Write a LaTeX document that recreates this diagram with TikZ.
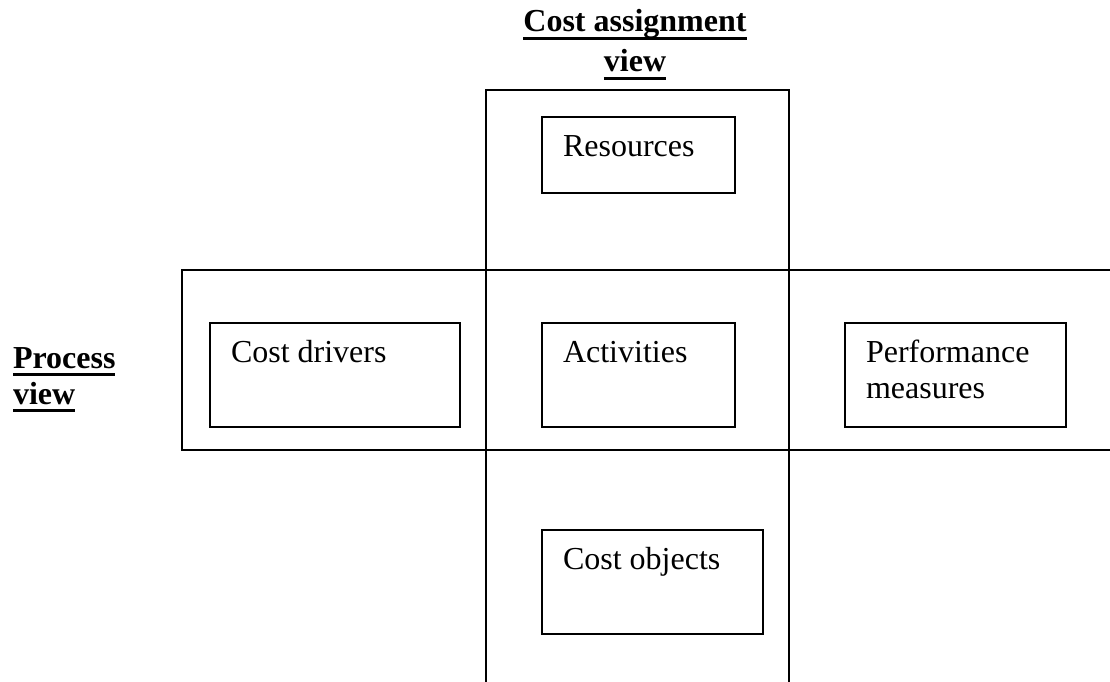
\documentclass[tikz,border=0pt]{standalone}
\usepackage{fontspec}
\setmainfont{Liberation Serif}
\newcommand{\ulbold}[1]{\setbox0\hbox{\bfseries #1}\usebox0\llap{\rule[-8pt]{\wd0}{3pt}}}
\tikzset{
	itembox/.style={draw,anchor=north west,inner sep=0pt},
	itemtext/.style={anchor=base west,inner sep=0pt,align=left},
	viewtitle/.style={inner sep=0pt},
}
\begin{document}
\begin{tikzpicture}[x=1pt,y=-1pt,line width=2pt,font=\fontsize{32}{36}\selectfont]
		\useasboundingbox (0,0) rectangle (1110,682);
		% the two views
		\draw (486,690) -- (486,90) -- (789,90) -- (789,690);
		\draw (1120,270) -- (182,270) -- (182,450) -- (1120,450);
		\node[viewtitle,anchor=base,align=center,font=\fontsize{32}{40}\selectfont] (costview) at (635,72) {\ulbold{Cost assignment}\\\ulbold{view}};
		\node[viewtitle,anchor=base west,align=left] (procview) at (12,404) {\ulbold{Process}\\\ulbold{view}};
		% boxes
		\node[itembox,minimum width=193pt,minimum height=76pt] (res) at (541,116) {};
		\node[itembox,minimum width=250pt,minimum height=104pt] (drv) at (209,322) {};
		\node[itembox,minimum width=193pt,minimum height=104pt] (act) at (541,322) {};
		\node[itembox,minimum width=221pt,minimum height=104pt] (perf) at (844,322) {};
		\node[itembox,minimum width=221pt,minimum height=104pt] (obj) at (541,529) {};
		\node[itemtext] (restext) at ([xshift=21pt,yshift=-40pt]res.north west) {Resources};
		\node[itemtext] (drvtext) at ([xshift=21pt,yshift=-40pt]drv.north west) {Cost drivers};
		\node[itemtext] (acttext) at ([xshift=21pt,yshift=-40pt]act.north west) {Activities};
		\node[itemtext] (perftext) at ([xshift=21pt,yshift=-76pt]perf.north west) {Performance\\measures};
		\node[itemtext] (objtext) at ([xshift=21pt,yshift=-40pt]obj.north west) {Cost objects};
	\end{tikzpicture}
\end{document}
